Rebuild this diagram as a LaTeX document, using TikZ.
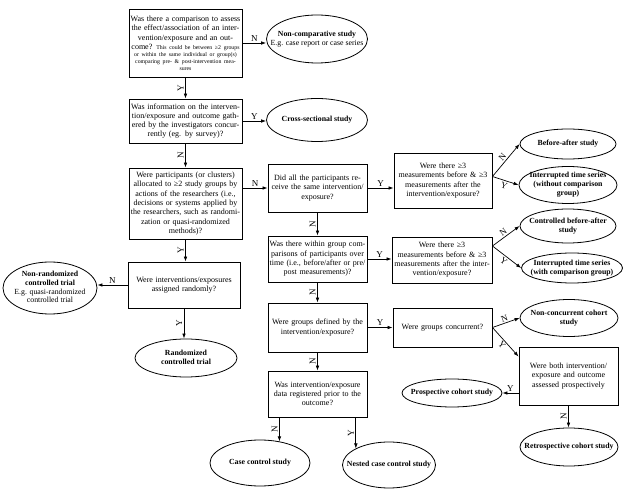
\documentclass[tikz,border=0pt]{standalone}
\usepackage{fontspec}
\setmainfont{Liberation Serif}
\usetikzlibrary{shapes.geometric,arrows.meta}
\newcommand{\elltxt}[1]{\vbox to 0pt{\vss\hbox to 0pt{\hss\begin{tabular}{@{}c@{}}#1\end{tabular}\hss}\vss}}
\newcommand{\smalltxt}{\fontsize{5.8}{6.9}\selectfont}
\begin{document}
\begin{tikzpicture}[x=1pt,y=-1pt,
		qbox/.style={draw, line width=.9pt, align=center, inner xsep=0pt, inner ysep=1pt, text width=#1, minimum width=#1, font=\fontsize{8}{9.3}\selectfont},
		endell/.style={ellipse, draw, line width=.8pt, inner sep=0pt, font=\bfseries\fontsize{7.8}{8.8}\selectfont},
		arr/.style={-{Latex[length=5pt,width=3.6pt]}, line width=.7pt},
		yn/.style={font=\fontsize{9}{9}\selectfont, inner sep=1.5pt}]
	\useasboundingbox (0,0) rectangle (625,489);
	% questions
	\node [qbox=113pt, minimum height=68pt] (q1) at (185.5,43) {Was there a comparison to assess\\ the effect/association of an inter-\\vention/exposure and an out-\par
		\strut come? {\smalltxt This could be between ≥2 groups\\ or within the same individual or group(s)\\ comparing pre- \& post-intervention mea-\\sures\par}};
	\node [qbox=113pt, minimum height=44pt] (q2) at (185.5,121) {Was information on the interven-\\tion/exposure and outcome gath-\\ered by the investigators concur-\\rently (eg. by survey)?};
	\node [qbox=113pt, minimum height=71pt] (q3) at (185.5,203.5) {Were participants (or clusters)\\ allocated to ≥2 study groups by\\ actions of the researchers (i.e.,\\ decisions or systems applied by\\ the researchers, such as randomi-\\zation or quasi-randomized\\ methods)?};
	\node [qbox=112pt, minimum height=46pt] (q12) at (184,285) {Were interventions/exposures\\ assigned randomly?};
	\node [qbox=99pt, minimum height=48pt] (q4) at (317.5,188) {Did all the participants re-\\ceive the same intervention/\\exposure?};
	\node [qbox=98pt, minimum height=55pt] (q5) at (443,180.5) {Were there ≥3\\ measurements before \& ≥3\\ measurements after the\\ intervention/exposure?};
	\node [qbox=99pt, minimum height=46pt] (q6) at (317.5,259) {Was there within group com-\\parisons of participants over\\ time (i.e., before/after or pre/\\ post measurements)?};
	\node [qbox=100pt, minimum height=46pt] (q7) at (442,260) {Were there ≥3\\ measurements before \& ≥3\\ measurements after the inter-\\vention/exposure?};
	\node [qbox=99pt, minimum height=49pt] (q8) at (317.5,327.5) {Were groups defined by the\\ intervention/exposure?};
	\node [qbox=99pt, minimum height=39pt] (q9) at (442.5,327.5) {Were groups concurrent?};
	\node [qbox=99pt, minimum height=58pt] (q10) at (568.5,376) {Were both intervention/\\ exposure and outcome\\ assessed prospectively};
	\node [qbox=99pt, minimum height=46pt] (q11) at (317.5,394) {Was intervention/exposure\\ data registered prior to the\\ outcome?};
	% study designs
	\node [endell, minimum width=101pt, minimum height=48pt] (e1) at (317,39) {\elltxt{Non-comparative study\\ \mdseries E.g. case report or case series}};
	\node [endell, minimum width=101pt, minimum height=43pt] (e2) at (317,120) {\elltxt{Cross-sectional study}};
	\node [endell, minimum width=96pt, minimum height=30pt] (e3) at (568,144) {\elltxt{Before-after study}};
	\node [endell, minimum width=98pt, minimum height=37pt] (e4) at (568,185) {\elltxt{Interrupted time series\\ (without comparison\\ group)}};
	\node [endell, minimum width=96pt, minimum height=34pt] (e5) at (568,226) {\elltxt{Controlled before-after\\ study}};
	\node [endell, minimum width=101pt, minimum height=30pt] (e6) at (572,268) {\elltxt{Interrupted time series\\ (with comparison group)}};
	\node [endell, minimum width=98pt, minimum height=37pt] (e7) at (569,318) {\elltxt{Non-concurrent cohort\\ study}};
	\node [endell, minimum width=100pt, minimum height=28pt] (e8) at (452,393) {\elltxt{Prospective cohort study}};
	\node [endell, minimum width=98pt, minimum height=38pt] (e9) at (569,447) {\elltxt{Retrospective cohort study}};
	\node [endell, minimum width=100pt, minimum height=46pt] (e10) at (260,463) {\elltxt{Case control study}};
	\node [endell, minimum width=93pt, minimum height=46pt] (e11) at (389,465) {\elltxt{Nested case control study}};
	\node [endell, minimum width=94pt, minimum height=52pt] (e12) at (50,288) {\elltxt{Non-randomized\\ controlled trial\\ \mdseries E.g. quasi-randomized\\ \mdseries controlled trial}};
	\node [endell, minimum width=102pt, minimum height=38pt] (e13) at (186,358) {\elltxt{Randomized\\ controlled trial}};
	% left column
	\draw [arr] (q1.east) -- node [yn, above] {N} (q1.east -| e1.west);
	\draw [arr] (q1.south) -- node [yn, rotate=90, above] {Y} (q2.north);
	\draw [arr] (q2.east) -- node [yn, above] {Y} (q2.east -| e2.west);
	\draw [arr] (q2.south) -- node [yn, rotate=90, above] {N} (q3.north);
	\draw [arr] (q3.south) -- node [yn, rotate=90, above] {Y} (q3.south |- q12.north);
	\draw [arr] (q12.west) -- node [yn, above] {N} (q12.west -| e12.east);
	\draw [arr] (q12.south) -- node [yn, rotate=90, above] {Y} (q12.south |- e13.north);
	% middle column
	\draw [arr] (q3.east |- q4.west) -- node [yn, above] {N} (q4.west);
	\draw [arr] (q4.east) -- node [yn, above] {Y} (q4.east -| q5.west);
	\draw [arr] (q4.south) -- node [yn, rotate=90, above] {N} (q6.north);
	\draw [arr] (q6.east) -- node [yn, above] {Y} (q6.east -| q7.west);
	\draw [arr] (q6.south) -- node [yn, rotate=90, above] {N} (q8.north);
	\draw [arr] (q8.east) -- node [yn, above] {Y} (q8.east -| q9.west);
	\draw [arr] (q8.south) -- node [yn, rotate=90, above] {N} (q11.north);
	\draw [arr] (q11.south -| e10.48) -- node [yn, rotate=90, above] {N} (e10.48);
	\draw [arr] (q11.south -| e11.north west) -- node [yn, rotate=90, above] {Y} (e11.north west);
	% right column
	\draw [arr] ([yshift=4pt]q5.east) -- node [yn, sloped, above] {N} (e3.west);
	\draw [arr] ([yshift=4pt]q5.east) -- node [yn, sloped, below] {Y} (e4.west);
	\draw [arr] ([yshift=14pt]q7.east) -- node [yn, sloped, above] {N} (e5.west);
	\draw [arr] ([yshift=14pt]q7.east) -- node [yn, sloped, below] {Y} (e6.west);
	\draw [arr] (q9.east) -- node [yn, sloped, above] {N} (e7.west);
	\draw [arr] (q9.east) -- node [yn, sloped, below] {Y} ([yshift=-10pt]q10.north west);
	\draw [arr] (q10.west |- e8.east) -- node [yn, above] {Y} (e8.east);
	\draw [arr] (q10.south) -- node [yn, rotate=90, above] {N} (q10.south |- e9.north);
\end{tikzpicture}
\end{document}
